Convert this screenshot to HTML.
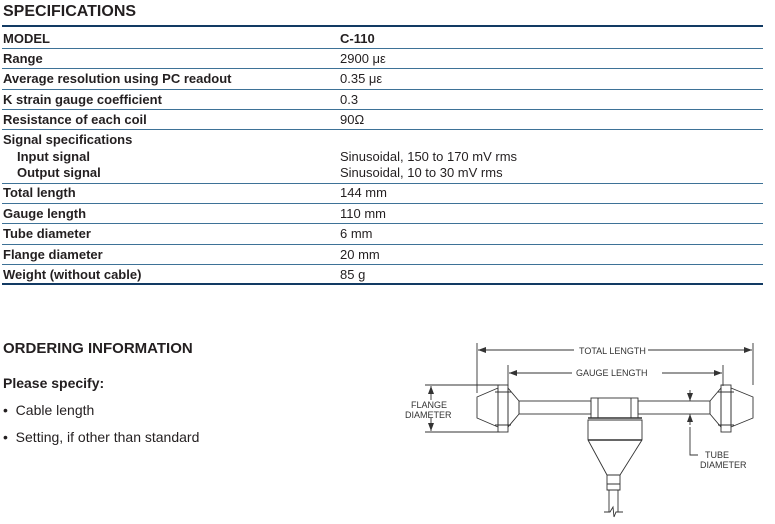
<!DOCTYPE html>
<html><head><meta charset="utf-8"><style>
body{margin:0;width:775px;height:524px;background:#fff;position:relative;font-family:"Liberation Sans",sans-serif;color:#231f20;overflow:hidden}
.t{position:absolute;white-space:nowrap;font-size:13px;line-height:15px}
.b{font-weight:bold}
.l{position:absolute;left:2px;width:761px;height:1px;background:#3e7297}
.d{height:2px;background:#123a63}
</style></head><body>
<div class="t b" style="left:3px;top:3px;font-size:16px;line-height:18px">SPECIFICATIONS</div>
<div class="l d" style="top:25px"></div>
<div class="l" style="top:48px"></div>
<div class="l" style="top:68px"></div>
<div class="l" style="top:89px"></div>
<div class="l" style="top:109px"></div>
<div class="l" style="top:129px"></div>
<div class="l" style="top:183px"></div>
<div class="l" style="top:203px"></div>
<div class="l" style="top:223px"></div>
<div class="l" style="top:244px"></div>
<div class="l" style="top:264px"></div>
<div class="l d" style="top:283px"></div>

<div class="t b" style="left:3px;top:31px">MODEL</div><div class="t b" style="left:340px;top:31px">C-110</div>
<div class="t b" style="left:3px;top:51px">Range</div><div class="t" style="left:340px;top:51px">2900 με</div>
<div class="t b" style="left:3px;top:71px">Average resolution using PC readout</div><div class="t" style="left:340px;top:71px">0.35 με</div>
<div class="t b" style="left:3px;top:92px">K strain gauge coefficient</div><div class="t" style="left:340px;top:92px">0.3</div>
<div class="t b" style="left:3px;top:112px">Resistance of each coil</div><div class="t" style="left:340px;top:112px">90Ω</div>
<div class="t b" style="left:3px;top:132px">Signal specifications</div>
<div class="t b" style="left:17px;top:149px">Input signal</div><div class="t" style="left:340px;top:149px">Sinusoidal, 150 to 170 mV rms</div>
<div class="t b" style="left:17px;top:165px">Output signal</div><div class="t" style="left:340px;top:165px">Sinusoidal, 10 to 30 mV rms</div>
<div class="t b" style="left:3px;top:185px">Total length</div><div class="t" style="left:340px;top:185px">144 mm</div>
<div class="t b" style="left:3px;top:206px">Gauge length</div><div class="t" style="left:340px;top:206px">110 mm</div>
<div class="t b" style="left:3px;top:226px">Tube diameter</div><div class="t" style="left:340px;top:226px">6 mm</div>
<div class="t b" style="left:3px;top:247px">Flange diameter</div><div class="t" style="left:340px;top:247px">20 mm</div>
<div class="t b" style="left:3px;top:267px">Weight (without cable)</div><div class="t" style="left:340px;top:267px">85 g</div>

<div class="t b" style="left:3px;top:340px;font-size:15px;line-height:17px">ORDERING INFORMATION</div>
<div class="t b" style="left:3px;top:375px;font-size:14px;line-height:16px">Please specify:</div>
<div class="t" style="left:3px;top:402px;font-size:14px;line-height:16px">•&nbsp; Cable length</div>
<div class="t" style="left:3px;top:429px;font-size:14px;line-height:16px">•&nbsp; Setting, if other than standard</div>

<svg width="775" height="524" style="position:absolute;left:0;top:0" fill="none" stroke="#333" stroke-width="0.9">
<defs><marker id="a" markerWidth="8" markerHeight="6" refX="8" refY="3" orient="auto" markerUnits="userSpaceOnUse"><path d="M0,0L8,3L0,6z" fill="#333" stroke="none"/></marker></defs>
<g font-family="Liberation Sans,sans-serif" font-size="9" fill="#333" stroke="none">
<text x="579" y="354">TOTAL LENGTH</text>
<text x="576" y="376">GAUGE LENGTH</text>
<text x="411" y="408">FLANGE</text><text x="405" y="418">DIAMETER</text>
<text x="705" y="458">TUBE</text><text x="700" y="468">DIAMETER</text>
</g>
<path d="M574,350H478" marker-end="url(#a)"/>
<path d="M648,350H752" marker-end="url(#a)"/>
<path d="M572,373H509" marker-end="url(#a)"/>
<path d="M662,373H722" marker-end="url(#a)"/>
<path d="M477,343V393M753,343V385M508,365V386M723,365V386"/>
<path d="M425,385H500M425,432H500"/>
<path d="M431,400V386" marker-end="url(#a)"/>
<path d="M431,418V431" marker-end="url(#a)"/>
<path d="M690,390V401" marker-end="url(#a)"/>
<path d="M690,425V414" marker-end="url(#a)"/>
<path d="M690,427V455H698"/>
<path d="M477,397L498,388V427L477,418Z"/>
<rect x="498" y="385" width="10" height="47"/>
<path d="M495,392H511M495,425H511"/>
<path d="M508,388L519,401V414L508,427Z"/>
<rect x="519" y="401" width="72" height="13"/>
<rect x="591" y="398" width="47" height="20"/>
<path d="M598,398V418M631,398V418"/>
<rect x="638" y="401" width="72" height="13"/>
<path d="M721,388L710,401V414L721,427Z"/>
<rect x="721" y="385" width="10" height="47"/>
<path d="M718,392H734M718,425H734"/>
<path d="M731,388L753,397V418L731,427Z"/>
<path d="M588,420H642V440L620,475H607L588,440Z"/>
<path d="M588,418H642M588,440H642" stroke-width="1.5"/>
<path d="M607,475V490H620V475M607,484H620"/>
<path d="M609,490V512M618,490V512M604,512L610,512L613,507L614,517L616,512H623"/>
</svg>
</body></html>
